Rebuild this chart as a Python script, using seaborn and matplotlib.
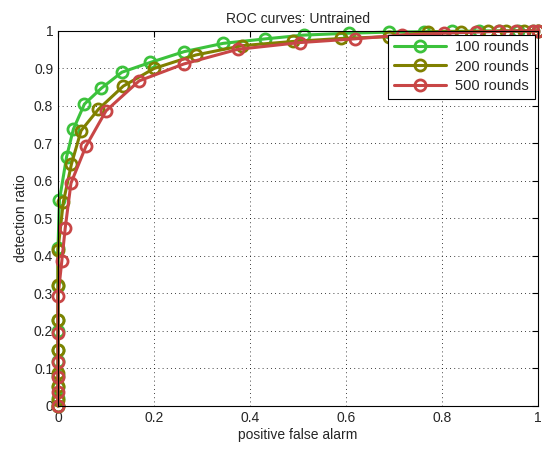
import numpy as np
import pandas as pd
import matplotlib
matplotlib.use("Agg")
import matplotlib.pyplot as plt
import seaborn as sns

# ROC points (false alarm, detection ratio)
fa_100 = [0.0, 0.0, 0.0, 0.0, 0.0, 0.0, 0.0, 0.0, 0.0, 0.0, 0.003, 0.018, 0.032, 0.055, 0.09,
          0.133, 0.192, 0.263, 0.344, 0.432, 0.512, 0.605, 0.689, 0.762, 0.82, 0.877,
          0.918, 0.957, 0.99, 1.0]
det_100 = [0.0, 0.02, 0.05, 0.08, 0.12, 0.15, 0.20, 0.23, 0.32, 0.42, 0.549, 0.665, 0.738, 0.805,
           0.847, 0.89, 0.916, 0.945, 0.967, 0.979, 0.989, 0.994, 0.997, 0.998, 0.999,
           1.0, 1.0, 1.0, 1.0, 1.0]

fa_200 = [0.0, 0.0, 0.0, 0.0, 0.0, 0.0, 0.0, 0.0, 0.011, 0.028, 0.048, 0.084, 0.136,
          0.2, 0.287, 0.384, 0.489, 0.589, 0.69, 0.77, 0.84, 0.895, 0.933, 0.97, 1.0]
det_200 = [0.0, 0.016, 0.052, 0.087, 0.149, 0.229, 0.323, 0.416, 0.543, 0.645, 0.734,
           0.791, 0.853, 0.9, 0.936, 0.961, 0.972, 0.98, 0.985, 0.997, 0.998, 0.999,
           1.0, 1.0, 1.0]

fa_500 = [0.0, 0.0, 0.0, 0.0, 0.0, 0.0, 0.008, 0.015, 0.027, 0.058, 0.1, 0.169, 0.262,
          0.374, 0.503, 0.618, 0.717, 0.804, 0.871, 0.918, 0.954, 0.99, 1.0]
det_500 = [0.0, 0.036, 0.078, 0.118, 0.194, 0.292, 0.387, 0.474, 0.594, 0.692, 0.787,
           0.867, 0.912, 0.951, 0.969, 0.979, 0.989, 0.994, 0.997, 0.999, 1.0, 1.0, 1.0]

labels = ["100 rounds", "200 rounds", "500 rounds"]
colors = ["#3cc23c", "#808000", "#c84646"]

sns.set_style("white")
plt.rcParams["font.family"] = ["Liberation Sans", "DejaVu Sans"]

fig = plt.figure(figsize=(5.42, 4.49), dpi=100)
ax = fig.add_axes([0.107, 0.096, 0.886, 0.835])

series = [(fa_100, det_100), (fa_200, det_200), (fa_500, det_500)]
for (fa, det), lab, col in zip(series, labels, colors):
    df = pd.DataFrame({"fa": fa, "det": det})
    sns.lineplot(data=df, x="fa", y="det", sort=False, estimator=None, ax=ax,
                 color=col, linewidth=2.2, marker="o", markersize=8,
                 markerfacecolor="none", markeredgecolor=col, markeredgewidth=2,
                 label=lab, clip_on=False)

ax.set_xlim(0, 1)
ax.set_ylim(0, 1)
ax.set_xticks(np.arange(0, 1.01, 0.2))
ax.set_yticks(np.arange(0, 1.01, 0.1))
ax.set_xticklabels(["0", "0.2", "0.4", "0.6", "0.8", "1"])
ax.set_yticklabels(["0", "0.1", "0.2", "0.3", "0.4", "0.5", "0.6", "0.7", "0.8", "0.9", "1"])
ax.grid(True, color="black", linestyle=(0, (1, 4)), linewidth=0.6)
ax.tick_params(direction="in", length=4, width=0.8, labelsize=10,
               top=True, right=True, color="black")
for sp in ax.spines.values():
    sp.set_color("black")
    sp.set_linewidth(0.8)

ax.set_title("ROC curves: Untrained", fontsize=10, pad=6)
ax.set_xlabel("positive false alarm", fontsize=10, labelpad=2)
ax.set_ylabel("detection ratio", fontsize=10, labelpad=4)

leg = ax.legend(loc="upper right", fontsize=10.5, frameon=True, fancybox=False,
                borderaxespad=0.25, handlelength=3.6, labelspacing=0.35,
                borderpad=0.4, handletextpad=0.6)
leg.get_frame().set_edgecolor("black")
leg.get_frame().set_linewidth(0.8)
leg.get_frame().set_alpha(1)
leg.set_zorder(10)

fig.savefig("out.png", dpi=100)
